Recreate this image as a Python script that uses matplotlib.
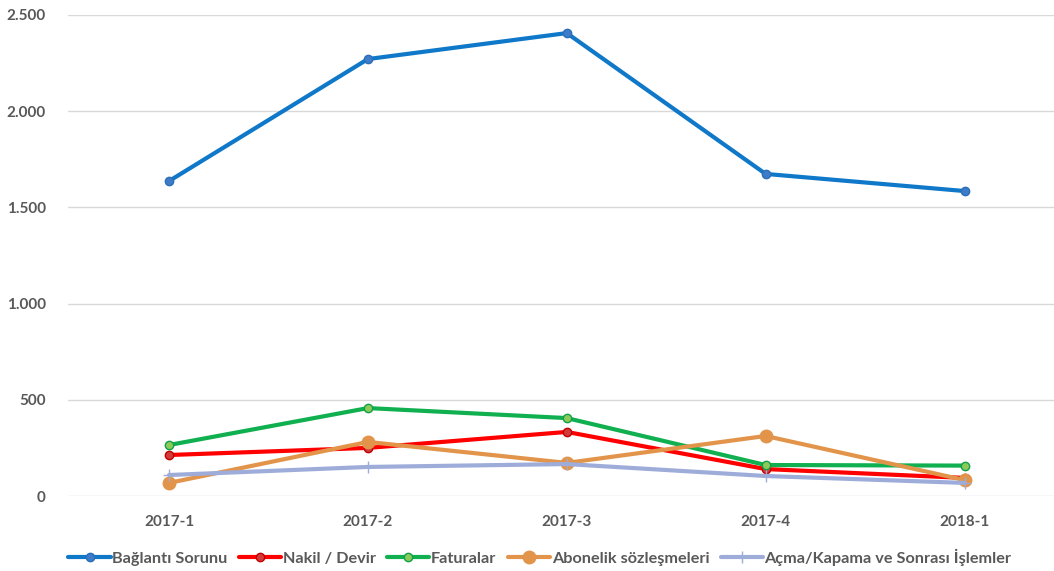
import matplotlib
matplotlib.use("Agg")
import matplotlib.pyplot as plt
from matplotlib.ticker import FuncFormatter

categories = ["2017-1", "2017-2", "2017-3", "2017-4", "2018-1"]
baglanti = [1637, 2271, 2406, 1674, 1585]
nakil = [213, 250, 333, 140, 94]
faturalar = [265, 457, 405, 161, 158]
abonelik = [68, 281, 172, 312, 83]
acma = [109, 151, 166, 104, 68]
series_names = ["Bağlantı Sorunu", "Nakil / Devir", "Faturalar",
                "Abonelik sözleşmeleri", "Açma/Kapama ve Sonrası İşlemler"]

plt.rcParams['font.family'] = ['Lato', 'DejaVu Sans']
W, H = 1054, 571
fig = plt.figure(figsize=(W / 100, H / 100), dpi=100)
left, right, top, bottom = 68, 1054, 15, 496
ax = fig.add_axes([left / W, 1 - bottom / H, (right - left) / W, (bottom - top) / H])

x = list(range(len(categories)))
styles = [
    dict(color="#0F78C8", lw=3.0, marker="o", ms=6, mfc="#3E7CC9", mec="#2A6FB8", mew=1.0),
    dict(color="#FF0000", lw=3.0, marker="o", ms=6, mfc="#D33A3A", mec="#C00000", mew=1.0),
    dict(color="#10B050", lw=3.0, marker="o", ms=6, mfc="#8CCB5A", mec="#10A048", mew=1.0),
    dict(color="#E2954A", lw=3.0, marker="o", ms=9, mfc="#E2954A", mec="#E2954A", mew=1.0),
    dict(color="#9EACDA", lw=3.0, marker="+", ms=9, mfc="#9EACDA", mec="#9EACDA", mew=1.0),
]
data = [baglanti, nakil, faturalar, abonelik, acma]
handles = []
for vals, name, st in zip(data, series_names, styles):
    h, = ax.plot(x, vals, label=name, solid_capstyle="round", zorder=3, **st)
    handles.append(h)

ax.set_xlim(-0.508, 4.45)
ax.set_ylim(0, 2500)
ax.set_yticks([0, 500, 1000, 1500, 2000, 2500])
ax.yaxis.set_major_formatter(FuncFormatter(lambda v, p: f"{int(v):,}".replace(",", ".")))
ax.set_xticks(x)
ax.set_xticklabels(categories)
ax.grid(axis="y", color="#D9D9D9", lw=1.0, zorder=0)
for s in ax.spines.values():
    s.set_visible(False)
ax.tick_params(axis="both", length=0, colors="#595959", labelsize=11)
ax.tick_params(axis="y", pad=16)
ax.tick_params(axis="x", pad=14)
for lab in ax.get_xticklabels() + ax.get_yticklabels():
    lab.set_fontweight("bold")
    lab.set_color("#595959")

leg = fig.legend(handles=handles, loc="center", bbox_to_anchor=(540 / W, 1 - 557 / H),
                 ncol=5, frameon=False, handlelength=2.6, handletextpad=0.1,
                 columnspacing=0.7, prop=dict(size=11.7, weight="bold"))
for t in leg.get_texts():
    t.set_color("#595959")

fig.savefig("out.png", dpi=100)
